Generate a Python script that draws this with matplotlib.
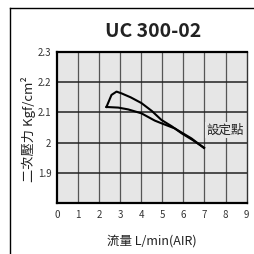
import matplotlib
matplotlib.use('Agg')
import matplotlib.pyplot as plt
from matplotlib.lines import Line2D

plt.rcParams['font.family'] = ['Noto Sans CJK TC', 'DejaVu Sans']

# data (flow L/min, pressure kgf/cm2)
upper_x = [2.35, 2.59, 2.83, 3.07, 3.5, 4.01, 4.5, 4.96, 5.45, 5.91, 6.45, 6.98]
upper_y = [2.118, 2.158, 2.169, 2.163, 2.150, 2.131, 2.105, 2.075, 2.054, 2.031, 2.008, 1.983]
lower_x = [2.35, 2.91, 3.38, 4.01, 4.64, 4.96, 5.59, 6.38, 6.98]
lower_y = [2.118, 2.116, 2.110, 2.097, 2.073, 2.064, 2.047, 2.014, 1.982]

x_ticks = list(range(0, 10))
y_ticks = [1.9, 2.0, 2.1, 2.2, 2.3]
y_labels = ['1.9', '2', '2.1', '2.2', '2.3']

fig = plt.figure(figsize=(2.54, 2.54), dpi=100)
ax = fig.add_axes([0.224, 0.201, 0.747, 0.594])
ax.set_facecolor('#e6e6e6')

ax.plot(upper_x, upper_y, color='black', lw=1.5, solid_joinstyle='round')
ax.plot(lower_x, lower_y, color='black', lw=1.5, solid_joinstyle='round')

ax.set_xlim(0, 9)
ax.set_ylim(1.8, 2.3)
ax.set_xticks(x_ticks)
ax.set_yticks(y_ticks)
ax.set_yticklabels(y_labels)
ax.tick_params(length=0, labelsize=7, labelcolor='#333333')
ax.tick_params(axis='y', pad=4)
ax.tick_params(axis='x', pad=5)

for x in x_ticks[1:-1]:
    ax.axvline(x, color='#555555', lw=0.9, zorder=0.5)
for y in y_ticks[:-1]:
    ax.axhline(y, color='#222222', lw=1.1, zorder=0.5)

for side in ['left', 'top', 'bottom']:
    ax.spines[side].set_linewidth(1.6)
ax.spines['right'].set_linewidth(1.0)
ax.spines['right'].set_color('#333333')

ax.text(7.96, 2.042, '設定點', fontsize=9, ha='center', va='center', color='#222222',
        bbox=dict(facecolor='#e6e6e6', edgecolor='none', pad=1.0))

fig.text(0.602, 0.875, 'UC 300-02', fontsize=14, fontweight='bold', ha='center', va='center',
         color='#222222')
fig.text(0.596, 0.052, '流量 L/min(AIR)', fontsize=9, ha='center', va='center', color='#222222')
fig.text(0.112, 0.49, '二次壓力 Kgf/cm²', fontsize=9.5, rotation=90, ha='center', va='center',
         color='#222222')

# outer frame of the original scan
fig.add_artist(Line2D([0.039, 0.039], [0.0, 0.969], color='black', lw=1.0))
fig.add_artist(Line2D([0.039, 1.0], [0.969, 0.969], color='black', lw=1.0))

fig.savefig('out.png', dpi=100, facecolor='white')
